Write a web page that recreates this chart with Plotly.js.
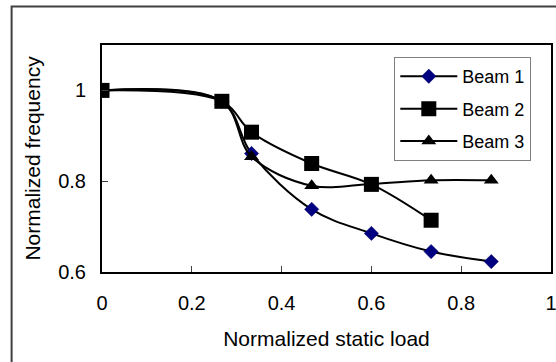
<!DOCTYPE html>
<html>
<head>
<meta charset="utf-8">
<script src="https://cdn.plot.ly/plotly-3.0.1.min.js"></script>
<style>
html,body{margin:0;padding:0;background:#fff;}
#chart{width:556px;height:362px;}
</style>
</head>
<body>
<div id="chart"></div>
<script>
// Data
var loadX = [0, 0.267, 0.333, 0.467, 0.6, 0.733, 0.867];
var beam1 = [1, 0.976, 0.861, 0.738, 0.685, 0.645, 0.623];
var beam2 = [1, 0.976, 0.908, 0.839, 0.793, 0.714];
var beam3 = [1, 0.976, 0.854, 0.790, 0.794, 0.802, 0.802];
var seriesNames = ['Beam 1', 'Beam 2', 'Beam 3'];
var xTickVals = [0, 0.2, 0.4, 0.6, 0.8, 1];
var xTickText = ['0', '0.2', '0.4', '0.6', '0.8', '1'];
var yTickVals = [0.6, 0.8, 1];
var yTickText = ['0.6', '0.8', '1'];

var FONT = 'Liberation Sans, Arial, sans-serif';

var traces = [
  {
    x: loadX, y: beam1, name: seriesNames[0], type: 'scatter', mode: 'lines+markers',
    legendgroup: 'g1',
    line: {color: '#000000', width: 2, shape: 'spline', smoothing: 1},
    marker: {symbol: 'diamond', size: 11, color: '#000080', line: {color: '#000060', width: 0.5}}
  },
  {
    x: loadX.slice(0, beam2.length), y: beam2, name: seriesNames[1], type: 'scatter', mode: 'lines+markers',
    legendgroup: 'g2',
    line: {color: '#000000', width: 2, shape: 'spline', smoothing: 1},
    marker: {symbol: 'square', size: 15, color: '#000000'}
  },
  {
    x: loadX, y: beam3, name: seriesNames[2], type: 'scatter', mode: 'lines+markers',
    legendgroup: 'g3',
    line: {color: '#000000', width: 2, shape: 'spline', smoothing: 1},
    marker: {symbol: 'triangle-up', size: 13, color: '#000000'}
  }
];

var layout = {
  width: 556, height: 362,
  margin: {l: 101.5, r: 5, t: 44.5, b: 90, pad: 0},
  paper_bgcolor: '#ffffff',
  plot_bgcolor: '#ffffff',
  font: {family: FONT, color: '#000000', size: 20},
  showlegend: true,
  legend: {
    x: 0.651, y: 0.947, xanchor: 'left', yanchor: 'top',
    bgcolor: '#ffffff', bordercolor: '#808080', borderwidth: 1,
    font: {family: FONT, size: 18, color: '#000000'},
    itemwidth: 57, tracegroupgap: 6,
    traceorder: 'grouped'
  },
  xaxis: {
    range: [0, 1], tickvals: xTickVals, ticktext: xTickText,
    showgrid: false, zeroline: false,
    showline: true, mirror: true, linecolor: '#000000', linewidth: 2,
    ticks: 'inside', ticklen: 6, tickcolor: '#404040', tickwidth: 1,
    tickfont: {family: FONT, size: 20, color: '#000000'},
    ticklabelstandoff: 12, ticklabeloverflow: 'allow',
    automargin: false,
    title: {text: 'Normalized static load', font: {family: FONT, size: 21, color: '#000000'}, standoff: 18}
  },
  yaxis: {
    range: [0.6, 1.1], tickvals: yTickVals, ticktext: yTickText,
    showgrid: false, zeroline: false,
    showline: true, mirror: true, linecolor: '#000000', linewidth: 2,
    ticks: 'inside', ticklen: 6, tickcolor: '#404040', tickwidth: 1,
    tickfont: {family: FONT, size: 20, color: '#000000'},
    ticklabelstandoff: 10,
    automargin: false,
    title: {text: 'Normalized frequency', font: {family: FONT, size: 21, color: '#000000'}, standoff: 12}
  },
  shapes: [
    {
      type: 'rect', xref: 'paper', yref: 'paper',
      x0: (11 - 101.5) / 449.5, x1: 1.2,
      y0: -0.6, y1: (272 - 6) / 227.5,
      line: {color: '#404040', width: 2}, fillcolor: 'rgba(0,0,0,0)', layer: 'below'
    }
  ]
};

Plotly.newPlot('chart', traces, layout, {displayModeBar: false, staticPlot: true});
</script>
</body>
</html>
